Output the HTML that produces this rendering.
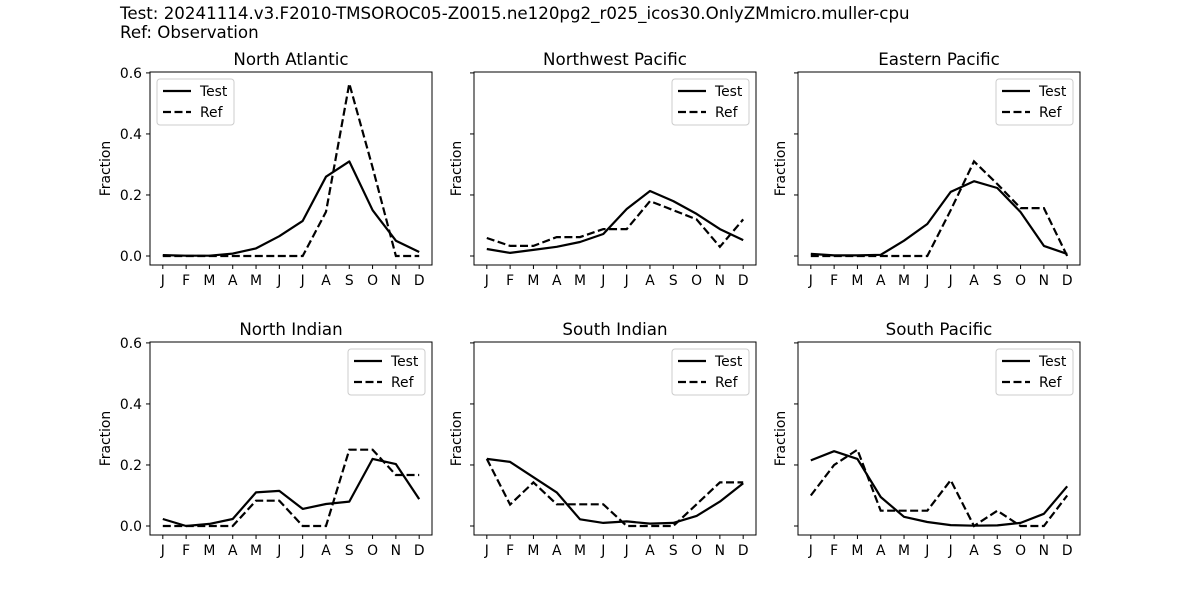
<!DOCTYPE html>
<html><head><meta charset="utf-8"><style>
body{margin:0;background:#fff;}
svg{font-family:"DejaVu Sans","Liberation Sans",sans-serif;}
</style></head><body>
<svg id="chart" width="1200" height="600">
<text x="120" y="19" font-size="16.67">Test: 20241114.v3.F2010-TMSOROC05-Z0015.ne120pg2_r025_icos30.OnlyZMmicro.muller-cpu</text>
<text x="120" y="38" font-size="16.67">Ref: Observation</text>
</svg>
<script>
const months = ["J","F","M","A","M","J","J","A","S","O","N","D"];
const basins = ["North Atlantic","Northwest Pacific","Eastern Pacific","North Indian","South Indian","South Pacific"];
const yTicks = [0.0,0.2,0.4,0.6];
const testNA = [0.003,0.001,0.001,0.008,0.025,0.065,0.115,0.26,0.31,0.15,0.05,0.013];
const refNA  = [0,0,0,0,0,0,0,0.145,0.565,0.29,0,0];
const testWP = [0.023,0.01,0.02,0.03,0.046,0.072,0.154,0.213,0.18,0.138,0.088,0.052];
const refWP  = [0.059,0.033,0.033,0.062,0.062,0.088,0.088,0.18,0.15,0.12,0.03,0.12];
const testEP = [0.007,0.002,0.002,0.004,0.05,0.105,0.21,0.245,0.223,0.144,0.033,0.007];
const refEP  = [0,0,0,0,0,0,0.15,0.31,0.236,0.157,0.157,0];
const testNI = [0.023,0,0.007,0.023,0.11,0.115,0.056,0.072,0.08,0.22,0.203,0.088];
const refNI  = [0,0,0,0,0.083,0.083,0,0,0.25,0.25,0.167,0.167];
const testSI = [0.22,0.21,0.16,0.11,0.022,0.01,0.015,0.008,0.01,0.033,0.08,0.14];
const refSI  = [0.22,0.07,0.143,0.071,0.071,0.071,0,0,0,0.071,0.143,0.143];
const testSP = [0.215,0.245,0.22,0.095,0.03,0.013,0.003,0.001,0.002,0.01,0.04,0.13];
const refSP  = [0.1,0.2,0.25,0.05,0.05,0.05,0.15,0,0.05,0,0,0.1];
const tests=[testNA,testWP,testEP,testNI,testSI,testSP];
const refs=[refNA,refWP,refEP,refNI,refSI,refSP];
const NS="http://www.w3.org/2000/svg";
const svg=document.getElementById("chart");
function mk(tag,attrs,parent){const e=document.createElementNS(NS,tag);for(const k in attrs)e.setAttribute(k,attrs[k]);(parent||svg).appendChild(e);return e;}
const lefts=[150,474,798], tops=[72,342], W=282, H=193;
const ymin=-0.0295, ymax=0.603;
basins.forEach((name,i)=>{
  const L=lefts[i%3], T=tops[Math.floor(i/3)];
  const g=mk("g",{});
  
  
  const xS=m=>L+(m+0.55)/12.1*W;
  const yS=v=>T+H-(v-ymin)/(ymax-ymin)*H;
  const t=mk("text",{x:L+W/2,y:T-7,"font-size":16.67,"text-anchor":"middle"},g);t.textContent=name;
  
  
  months.forEach((m,k)=>{
    mk("line",{x1:xS(k),x2:xS(k),y1:T+H,y2:T+H+4,stroke:"#000"},g);
    const tx=mk("text",{x:xS(k),y:T+H+20,"font-size":13.9,"text-anchor":"middle"},g);tx.textContent=m;
    
    
  });
  yTicks.forEach(v=>{
    mk("line",{x1:L-4,x2:L,y1:yS(v),y2:yS(v),stroke:"#000"},g);
    if(i%3===0){const ty=mk("text",{x:L-8,y:yS(v)+5,"font-size":13.9,"text-anchor":"end"},g);ty.textContent=v.toFixed(1);
      
      }
  });
  const ylx=(i%3===0)?L-40:L-13;
  const yl=mk("text",{x:0,y:0,"font-size":13.9,"text-anchor":"middle",transform:`translate(${ylx},${T+H/2}) rotate(-90)`},g);yl.textContent="Fraction";
  
  
  const pt=a=>a.map((v,k)=>xS(k).toFixed(1)+","+yS(v).toFixed(1)).join(" ");
  const lt=mk("polyline",{points:pt(tests[i]),fill:"none",stroke:"#000","stroke-width":2.2,"stroke-linejoin":"round"},g);
  
  
  const lr=mk("polyline",{points:pt(refs[i]),fill:"none",stroke:"#000","stroke-width":2.2,"stroke-dasharray":"8,3.5"},g);
  
  
  mk("rect",{x:L,y:T,width:W,height:H,fill:"none",stroke:"#000","stroke-width":1},g);
  const lx=(i===0)?L+7:L+W-84, ly=T+7;
  const lg=mk("g",{},g);
  
  
  mk("rect",{x:lx,y:ly,width:77,height:46,rx:3,fill:"#fff",stroke:"#ccc"},lg);
  mk("line",{x1:lx+6,x2:lx+34,y1:ly+12,y2:ly+12,stroke:"#000","stroke-width":2.2},lg);
  mk("line",{x1:lx+6,x2:lx+34,y1:ly+33,y2:ly+33,stroke:"#000","stroke-width":2.2,"stroke-dasharray":"8,3.5"},lg);
  const a=mk("text",{x:lx+43,y:ly+17,"font-size":13.9},lg);a.textContent="Test";
  
  
  const b=mk("text",{x:lx+43,y:ly+38,"font-size":13.9},lg);b.textContent="Ref";
  
  
});
</script>
</body></html>
